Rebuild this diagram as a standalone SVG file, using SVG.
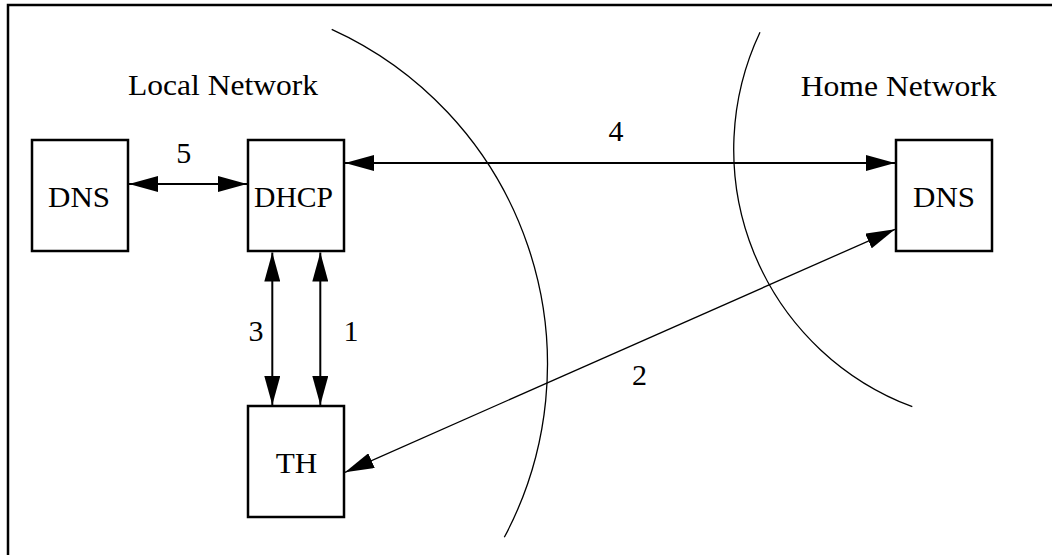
<svg xmlns="http://www.w3.org/2000/svg" width="1052" height="555" viewBox="0 0 1052 555">
<style>
.box{fill:#fff;stroke:#000;stroke-width:2.5}
.lbl{font-family:"Liberation Serif","Times New Roman",serif;font-size:30px;fill:#000;text-anchor:middle}
.thick{stroke:#000;stroke-width:2;fill:none}
.thin{stroke:#000;stroke-width:1.3;fill:none}
</style>
<defs>
<marker id="ah" viewBox="0 0 29 16" refX="29" refY="8" markerWidth="29" markerHeight="16" markerUnits="userSpaceOnUse" orient="auto-start-reverse">
<path d="M0,0 L29,8 L0,16 z" fill="#000"/>
</marker>
</defs>
<rect width="1052" height="555" fill="#fff"/>
<path d="M8,556 V5 H1053" fill="none" stroke="#000" stroke-width="2.5"/>
<g id="regions">
<path class="thin" d="M331.7,29.3 A368,368 0 0 1 504.3,537.3"/>
<path class="thin" d="M760,32.3 A274.5,274.5 0 0 0 912.3,406.7"/>
<text class="lbl" x="223" y="95" textLength="190" lengthAdjust="spacingAndGlyphs">Local Network</text>
<text class="lbl" x="898.7" y="95.5" textLength="196" lengthAdjust="spacingAndGlyphs">Home Network</text>
</g>
<g id="connectors">
<line class="thick" x1="129" y1="184" x2="247" y2="184" marker-start="url(#ah)" marker-end="url(#ah)"/>
<line class="thick" x1="345" y1="163" x2="895" y2="163" marker-start="url(#ah)" marker-end="url(#ah)"/>
<line class="thick" x1="272.3" y1="252.5" x2="272.3" y2="405" marker-start="url(#ah)" marker-end="url(#ah)"/>
<line class="thick" x1="320.3" y1="252.5" x2="320.3" y2="405" marker-start="url(#ah)" marker-end="url(#ah)"/>
<line class="thin" x1="345" y1="472.3" x2="895" y2="229.3" marker-start="url(#ah)" marker-end="url(#ah)"/>
<text class="lbl" x="183.7" y="163.3">5</text>
<text class="lbl" x="616" y="141">4</text>
<text class="lbl" x="256" y="340.7">3</text>
<text class="lbl" x="351" y="340.7">1</text>
<text class="lbl" x="639.5" y="385">2</text>
</g>
<g id="local-dns">
<rect class="box" x="32" y="140" width="96" height="111"/>
<text class="lbl" x="79" y="206.7" textLength="62" lengthAdjust="spacingAndGlyphs">DNS</text>
</g>
<g id="dhcp">
<rect class="box" x="248" y="140" width="96" height="111"/>
<text class="lbl" x="293.5" y="206.7" textLength="79" lengthAdjust="spacingAndGlyphs">DHCP</text>
</g>
<g id="th">
<rect class="box" x="248" y="406" width="96" height="111"/>
<text class="lbl" x="296.5" y="472.7" textLength="41.6" lengthAdjust="spacingAndGlyphs">TH</text>
</g>
<g id="home-dns">
<rect class="box" x="896" y="140" width="96" height="111"/>
<text class="lbl" x="944" y="206.7" textLength="62" lengthAdjust="spacingAndGlyphs">DNS</text>
</g>
</svg>
